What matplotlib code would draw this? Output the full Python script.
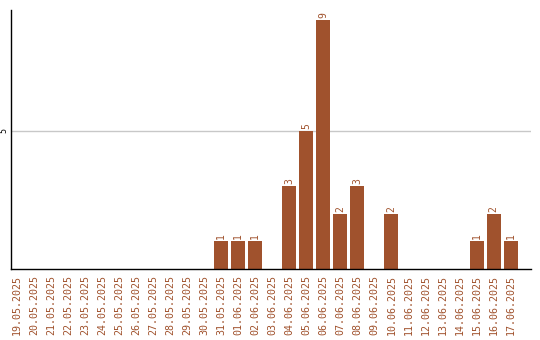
import matplotlib
matplotlib.use('Agg')
import matplotlib.pyplot as plt

dates = ['19.05.2025', '20.05.2025', '21.05.2025', '22.05.2025', '23.05.2025',
         '24.05.2025', '25.05.2025', '26.05.2025', '27.05.2025', '28.05.2025',
         '29.05.2025', '30.05.2025', '31.05.2025', '01.06.2025', '02.06.2025',
         '03.06.2025', '04.06.2025', '05.06.2025', '06.06.2025', '07.06.2025',
         '08.06.2025', '09.06.2025', '10.06.2025', '11.06.2025', '12.06.2025',
         '13.06.2025', '14.06.2025', '15.06.2025', '16.06.2025', '17.06.2025']
counts = [0, 0, 0, 0, 0, 0, 0, 0, 0, 0, 0, 0, 1, 1, 1,
          0, 3, 5, 9, 2, 3, 0, 2, 0, 0, 0, 0, 1, 2, 1]

bar_color = '#A0522D'
font = 'DejaVu Sans Mono'

fig = plt.figure(figsize=(5.4, 3.4), dpi=100)
ax = fig.add_axes([11/540, 1-269/340, 520/540, 259/340])

x = list(range(len(dates)))
ax.bar(x, counts, width=0.82, color=bar_color, zorder=2)

for xi, c in zip(x, counts):
  if c > 0:
    ax.text(xi, c + 0.08, str(c), rotation=90, ha='center', va='bottom',
            fontsize=7, color=bar_color, family=font)

ax.set_xlim(-0.36, 30.2)
ax.set_ylim(0, 9.38)

ax.set_yticks([5])
ax.set_yticklabels(['5'], rotation=90, va='center', fontsize=6, family=font)
ax.yaxis.grid(True, color='#c8c8c8', lw=1, zorder=0)

ax.set_xticks(x)
ax.set_xticklabels(dates, rotation=90, fontsize=7.2, color=bar_color, family=font)
ax.tick_params(axis='x', length=0, pad=4)
ax.tick_params(axis='y', length=0, pad=2)

for side in ['top', 'right']:
  ax.spines[side].set_visible(False)
ax.spines['left'].set_linewidth(1)
ax.spines['bottom'].set_linewidth(1)

fig.savefig('out.png', dpi=100)
